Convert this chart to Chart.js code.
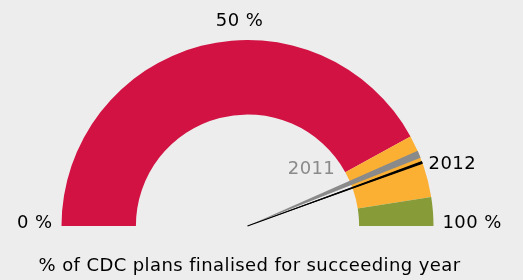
<!DOCTYPE html>
<html>
<head>
<meta charset="utf-8">
<script src="https://cdn.jsdelivr.net/npm/chart.js@4"></script>
<style>
  html, body { margin: 0; padding: 0; background: #ededed; }
  #wrap { width: 523px; height: 280px; }
</style>
</head>
<body>
<div id="wrap"><canvas id="gauge"></canvas></div>
<script>
// bands of the gauge, in % of plans finalised
const bandNames = ["low", "medium", "high"];
const bandSizes = [84, 11, 5];
const bandColors = ["#d21243", "#fbb034", "#879c38"];

// readings per year
const years = ["2011", "2012"];
const yearValues = [87.4, 88.9];
const yearColors = ["#8a8a8a", "#000000"];

const tickValues = [0, 50, 100];
const tickLabels = ["0 %", "50 %", "100 %"];
const caption = "% of CDC plans finalised for succeeding year";

const FONT = "18px 'DejaVu Sans', Verdana, sans-serif";

function angleOf(v) {
  return Math.PI + (v / 100) * Math.PI;
}

const needles = {
  id: "needles",
  afterDatasetsDraw(chart) {
    const arc = chart.getDatasetMeta(0).data[0];
    const cx = arc.x, cy = arc.y, R = arc.outerRadius;
    const ctx = chart.ctx;
    ctx.save();

    // 2011: grey wedge
    const a0 = angleOf(yearValues[0]);
    const half = 0.02;
    ctx.fillStyle = yearColors[0];
    ctx.beginPath();
    ctx.moveTo(cx, cy);
    ctx.arc(cx, cy, R, a0 - half, a0 + half);
    ctx.closePath();
    ctx.fill();

    // 2012: black needle
    const a1 = angleOf(yearValues[1]);
    ctx.fillStyle = yearColors[1];
    ctx.beginPath();
    ctx.moveTo(cx, cy);
    ctx.arc(cx, cy, R, a1 - 0.008, a1 + 0.008);
    ctx.closePath();
    ctx.fill();
    ctx.strokeStyle = yearColors[1];
    ctx.lineWidth = 1.3;
    ctx.beginPath();
    ctx.moveTo(cx, cy);
    ctx.lineTo(cx + R * Math.cos(a1), cy + R * Math.sin(a1));
    ctx.stroke();

    // tick labels
    ctx.font = FONT;
    ctx.letterSpacing = "0.4px";
    ctx.fillStyle = "#000";
    ctx.textBaseline = "alphabetic";
    tickValues.forEach((v, i) => {
      const a = angleOf(v);
      if (v === 0) {
        ctx.textAlign = "right";
        ctx.fillText(tickLabels[i], cx - R - 9, cy + 2);
      } else if (v === 100) {
        ctx.textAlign = "left";
        ctx.fillText(tickLabels[i], cx + R + 9, cy + 2);
      } else {
        ctx.textAlign = "center";
        ctx.fillText(tickLabels[i], cx + R * Math.cos(a) - 8, cy + R * Math.sin(a) - 14);
      }
    });

    // year labels
    ctx.textAlign = "center";
    ctx.fillStyle = yearColors[0];
    ctx.fillText(years[0], cx + 64, cy - 52);
    ctx.fillStyle = yearColors[1];
    ctx.fillText(years[1], cx + R * Math.cos(a1) + 30, cy + R * Math.sin(a1) + 7);

    // caption
    ctx.fillStyle = "#000";
    ctx.fillText(caption, cx + 2, cy + 45);
    ctx.restore();
  }
};

new Chart(document.getElementById("gauge"), {
  type: "doughnut",
  data: {
    labels: bandNames,
    datasets: [{
      data: bandSizes,
      backgroundColor: bandColors,
      borderWidth: 0
    }]
  },
  options: {
    responsive: true,
    maintainAspectRatio: false,
    animation: false,
    rotation: -90,
    circumference: 180,
    cutout: "60%",
    layout: { padding: { left: 61.5, right: 89.5, top: 40, bottom: 54 } },
    plugins: {
      legend: { display: false },
      tooltip: { enabled: false }
    }
  },
  plugins: [needles]
});
</script>
</body>
</html>
